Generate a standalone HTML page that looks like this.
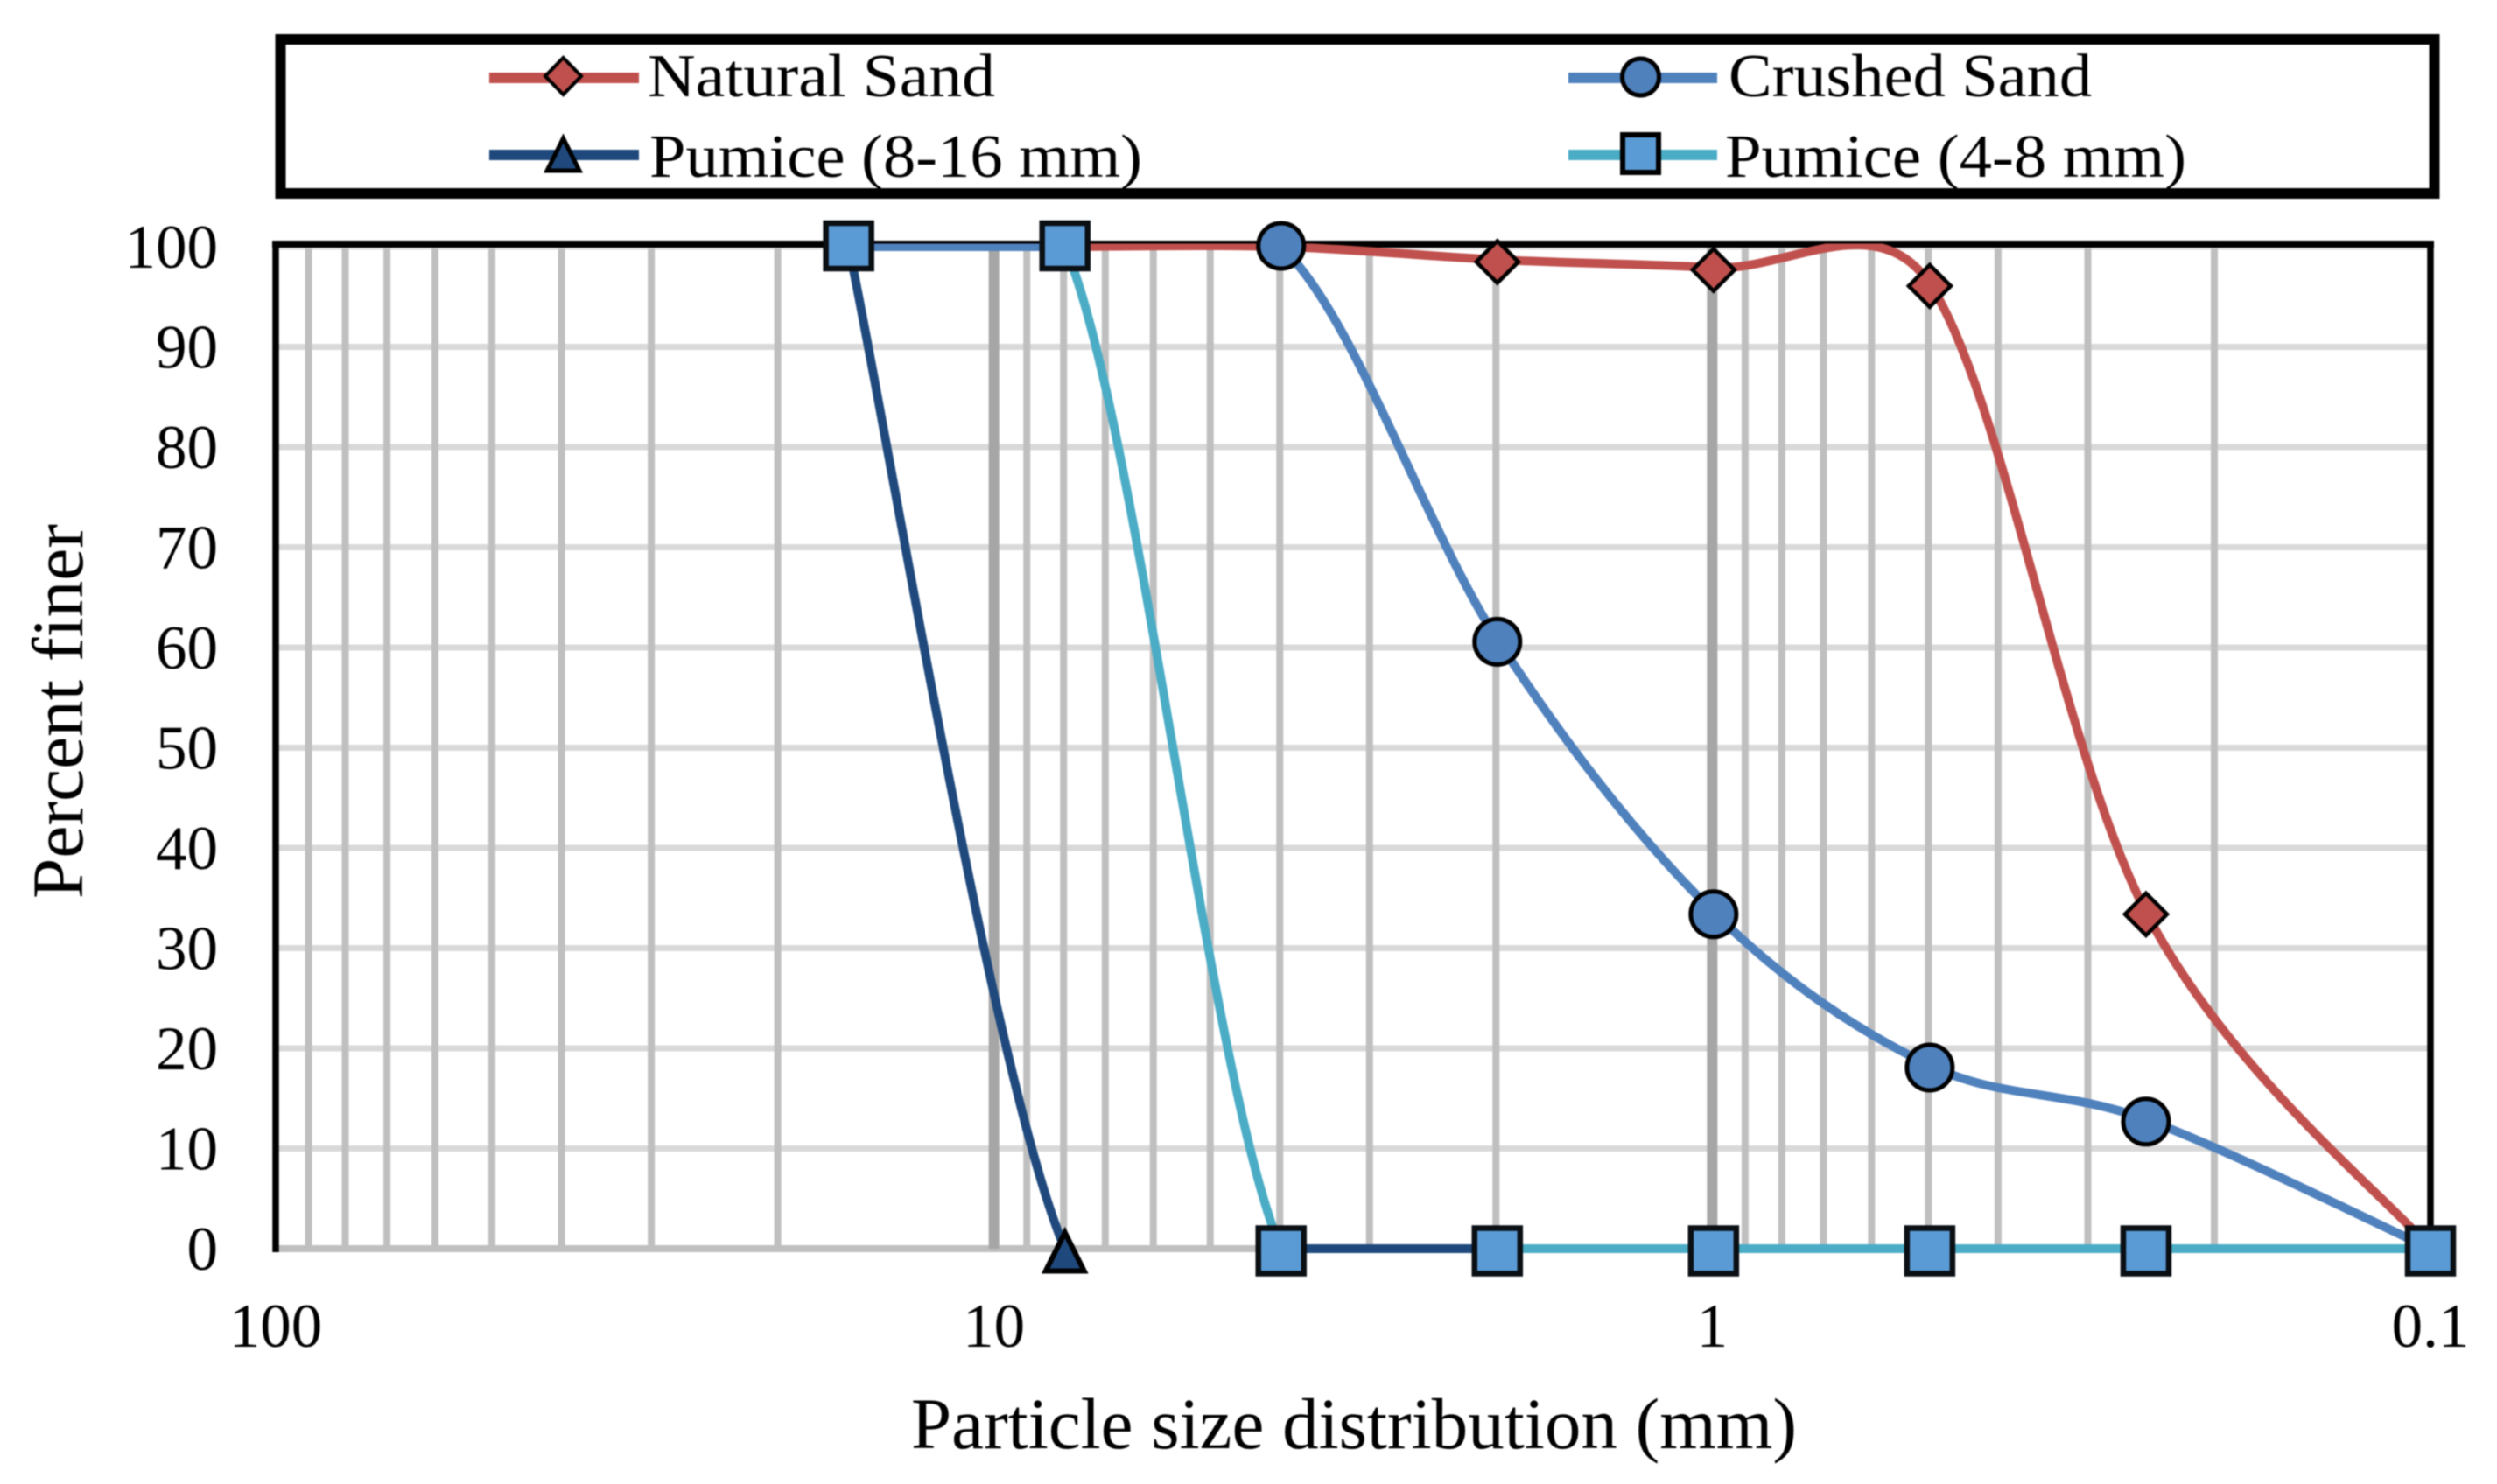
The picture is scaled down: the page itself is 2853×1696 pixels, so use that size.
<!DOCTYPE html>
<html lang="en">
<head>
<meta charset="utf-8">
<title>Particle size distribution chart</title>
<style>
  html, body { margin: 0; padding: 0; background: #ffffff; }
  body { width: 2853px; height: 1696px; overflow: hidden; }
  svg { display: block; filter: blur(0.7px); }
  text { font-family: "Liberation Serif", "Times New Roman", serif; fill: #000000; }
</style>
</head>
<body>
<svg id="chart" xmlns="http://www.w3.org/2000/svg" width="2853" height="1696" viewBox="0 0 2853 1696">
  <rect x="0" y="0" width="2853" height="1696" fill="#ffffff"/>
  <defs>
    <clipPath id="plot-clip"><rect x="300" y="278.5" width="2500" height="1170"/></clipPath>
  </defs>
  <g id="grid"></g>
  <g id="frame">
    <line x1="311" y1="279" x2="2781" y2="279" stroke="#000" stroke-width="8"/>
    <line x1="315" y1="275" x2="315" y2="1431" stroke="#000" stroke-width="7.5"/>
    <line x1="2777" y1="275" x2="2777" y2="1431" stroke="#000" stroke-width="7.5"/>
  </g>
  <g id="lines" clip-path="url(#plot-clip)"></g>
  <g id="markers"></g>
  <g id="ticks"></g>

  <text x="1041" y="1655" font-size="83" textLength="1012" lengthAdjust="spacingAndGlyphs">Particle size distribution (mm)</text>
  <text transform="translate(94 1027) rotate(-90)" x="0" y="0" font-size="83" textLength="428" lengthAdjust="spacingAndGlyphs">Percent finer</text>

  <g id="legend">
    <rect x="320.5" y="45" width="2461" height="176" fill="none" stroke="#000" stroke-width="12"/>
    <g>
      <line x1="559" y1="89" x2="730" y2="89" stroke="#c0504d" stroke-width="12"/>
      <polygon points="643.5,66 664,87 643.5,108 623,87" fill="#c0504d" stroke="#000" stroke-width="4"/>
      <text x="740" y="110" font-size="70" textLength="397" lengthAdjust="spacingAndGlyphs">Natural Sand</text>
    </g>
    <g>
      <line x1="1792" y1="89" x2="1962" y2="89" stroke="#4f81bd" stroke-width="12"/>
      <circle cx="1874.5" cy="88" r="21" fill="#4f81bd" stroke="#000" stroke-width="5"/>
      <text x="1975" y="110" font-size="70" textLength="415" lengthAdjust="spacingAndGlyphs">Crushed Sand</text>
    </g>
    <g>
      <line x1="559" y1="177" x2="730" y2="177" stroke="#1f497d" stroke-width="12"/>
      <polygon points="643.5,158 662,195 625,195" fill="#1f497d" stroke="#000" stroke-width="5"/>
      <text x="742" y="202" font-size="70" textLength="563" lengthAdjust="spacingAndGlyphs">Pumice (8-16 mm)</text>
    </g>
    <g>
      <line x1="1792" y1="177" x2="1962" y2="177" stroke="#4bacc6" stroke-width="12"/>
      <rect x="1854" y="154" width="41" height="43" fill="#5b9bd5" stroke="#000" stroke-width="6"/>
      <text x="1971" y="202" font-size="70" textLength="527" lengthAdjust="spacingAndGlyphs">Pumice (4-8 mm)</text>
    </g>
  </g>
</svg>
<script>
// Chart data
const yTicks = [0, 10, 20, 30, 40, 50, 60, 70, 80, 90, 100];
const xTicks = [100, 10, 1, 0.1];
const xTickLabels = ['100', '10', '1', '0.1'];
const minorMultipliers = [2, 3, 4, 5, 6, 7, 8, 9];

const naturalSizes = [8, 4, 2, 1, 0.5, 0.25, 0.1];
const naturalValues = [100, 100, 98.7, 97.9, 96.3, 33.6, 0];
const naturalHiddenSegments = [];

const crushedSizes = [16, 8, 4, 2, 1, 0.5, 0.25, 0.1];
const crushedValues = [100, 100, 100, 60.8, 33.6, 18.3, 12.9, 0];
const crushedHiddenSegments = [1];

const pumice816Sizes = [16, 8, 4, 2, 1, 0.5, 0.25, 0.1];
const pumice816Values = [100, 0, 0, 0, 0, 0, 0, 0];
const pumice816HiddenSegments = [1];

const pumice48Sizes = [16, 8, 4, 2, 1, 0.5, 0.25, 0.1];
const pumice48Values = [100, 100, 0, 0, 0, 0, 0, 0];
const pumice48HiddenSegments = [0, 2];

const seriesNames = ['natural-sand', 'crushed-sand', 'pumice-8-16', 'pumice-4-8'];
const seriesSizes = [naturalSizes, crushedSizes, pumice816Sizes, pumice48Sizes];
const seriesValues = [naturalValues, crushedValues, pumice816Values, pumice48Values];
const seriesHidden = [naturalHiddenSegments, crushedHiddenSegments, pumice816HiddenSegments, pumice48HiddenSegments];
const seriesColors = ['#c0504d', '#4f81bd', '#1f497d', '#4bacc6'];
const seriesShapes = ['diamond', 'circle', 'triangle', 'square'];

// Axis functions
function xScale(size) { return 315 + (2 - Math.log10(size)) * 820.67; }
function yScale(value) { return 1427 - value * 11.45; }
function markerX(size) { return xScale(size) + (size > 0.1 ? 1.5 : 0); }
function markerY(value) { return yScale(value) + (value < 100 ? 2.5 : -1); }

const NS = 'http://www.w3.org/2000/svg';
const gridGroup = document.getElementById('grid');
const linesGroup = document.getElementById('lines');
const markersGroup = document.getElementById('markers');
const ticksGroup = document.getElementById('ticks');

function make(tag, attrs, parent) {
  const el = document.createElementNS(NS, tag);
  for (const key in attrs) el.setAttribute(key, attrs[key]);
  parent.appendChild(el);
  return el;
}

// Horizontal gridlines
yTicks.forEach(function (v) {
  const isBase = v === 0;
  const hl = make('line', {
    x1: 315, x2: 2777, y1: yScale(v), y2: yScale(v),
    stroke: isBase ? '#bfbfbf' : '#d9d9d9',
    'stroke-width': isBase ? 8 : 7
  }, gridGroup);
  
  
});

// Vertical minor gridlines
[10, 1, 0.1].forEach(function (decade) {
  minorMultipliers.forEach(function (m) {
    const vl = make('line', {
      x1: xScale(decade * m), x2: xScale(decade * m), y1: 279, y2: 1427,
      stroke: '#bfbfbf', 'stroke-width': 8
    }, gridGroup);
    
    
  });
});

// Vertical major gridlines
[10, 1].forEach(function (size) {
  const ml = make('line', {
    x1: xScale(size), x2: xScale(size), y1: 279, y2: 1427,
    stroke: '#a6a6a6', 'stroke-width': 12
  }, gridGroup);
  
  
});

// Tick labels
yTicks.forEach(function (v) {
  const t = make('text', { x: 249, y: yScale(v) + 24, 'text-anchor': 'end', 'font-size': 71 }, ticksGroup);
  
  
  t.textContent = String(v);
});
xTicks.forEach(function (size, i) {
  const t = make('text', { x: xScale(size), y: 1539, 'text-anchor': 'middle', 'font-size': 71 }, ticksGroup);
  
  
  t.textContent = xTickLabels[i];
});

// Limit a bezier handle relative to its segment length (Excel-style smoothing)
function handle(dx, dy, segmentLength) {
  const len = Math.hypot(dx, dy);
  const maxLen = 0.44 * segmentLength;
  const k = len > maxLen ? maxLen / len : 1;
  return [dx * k, dy * k];
}

// Smoothed line segments
function drawSeriesLine(si) {
  const sizes = seriesSizes[si];
  const values = seriesValues[si];
  const hidden = seriesHidden[si];
  const pts = sizes.map(function (s, i) { return [markerX(s), yScale(values[i])]; });
  let d = '';
  for (let i = 0; i < pts.length - 1; i++) {
    if (hidden.indexOf(i) !== -1) continue;
    const p0 = pts[Math.max(0, i - 1)];
    const p1 = pts[i];
    const p2 = pts[i + 1];
    const p3 = pts[Math.min(pts.length - 1, i + 2)];
    const seg = Math.hypot(p2[0] - p1[0], p2[1] - p1[1]);
    const h1 = handle((p2[0] - p0[0]) / 6, (p2[1] - p0[1]) / 6, seg);
    const h2 = handle((p3[0] - p1[0]) / 6, (p3[1] - p1[1]) / 6, seg);
    d += 'M' + p1[0].toFixed(1) + ' ' + p1[1].toFixed(1) +
         'C' + (p1[0] + h1[0]).toFixed(1) + ' ' + (p1[1] + h1[1]).toFixed(1) + ' ' +
         (p2[0] - h2[0]).toFixed(1) + ' ' + (p2[1] - h2[1]).toFixed(1) + ' ' +
         p2[0].toFixed(1) + ' ' + p2[1].toFixed(1);
  }
  const path = make('path', {
    d: d, fill: 'none', stroke: seriesColors[si], 'stroke-width': 10, 'stroke-linecap': 'butt'
  }, linesGroup);
  
  
}

function drawMarker(si, cx, cy) {
  const shape = seriesShapes[si];
  const fill = seriesColors[si];
  let m;
  if (shape === 'diamond') {
    m = make('polygon', {
      points: [cx, cy - 24, cx + 24, cy, cx, cy + 24, cx - 24, cy].join(' '),
      fill: fill, stroke: '#000', 'stroke-width': 4.5
    }, markersGroup);
  } else if (shape === 'circle') {
    m = make('circle', { cx: cx, cy: cy, r: 26, fill: fill, stroke: '#000', 'stroke-width': 5 }, markersGroup);
  } else if (shape === 'triangle') {
    m = make('polygon', {
      points: [cx, cy - 21, cx + 22, cy + 23, cx - 22, cy + 23].join(' '),
      fill: fill, stroke: '#000', 'stroke-width': 6
    }, markersGroup);
  } else {
    m = make('rect', {
      x: cx - 26, y: cy - 26, width: 52, height: 52,
      fill: '#5b9bd5', stroke: '#0a0f14', 'stroke-width': 6.5
    }, markersGroup);
  }
  
  
}

seriesNames.forEach(function (name, si) { drawSeriesLine(si); });
seriesNames.forEach(function (name, si) {
  seriesSizes[si].forEach(function (s, i) {
    drawMarker(si, markerX(s), markerY(seriesValues[si][i]));
  });
});
</script>
</body>
</html>
